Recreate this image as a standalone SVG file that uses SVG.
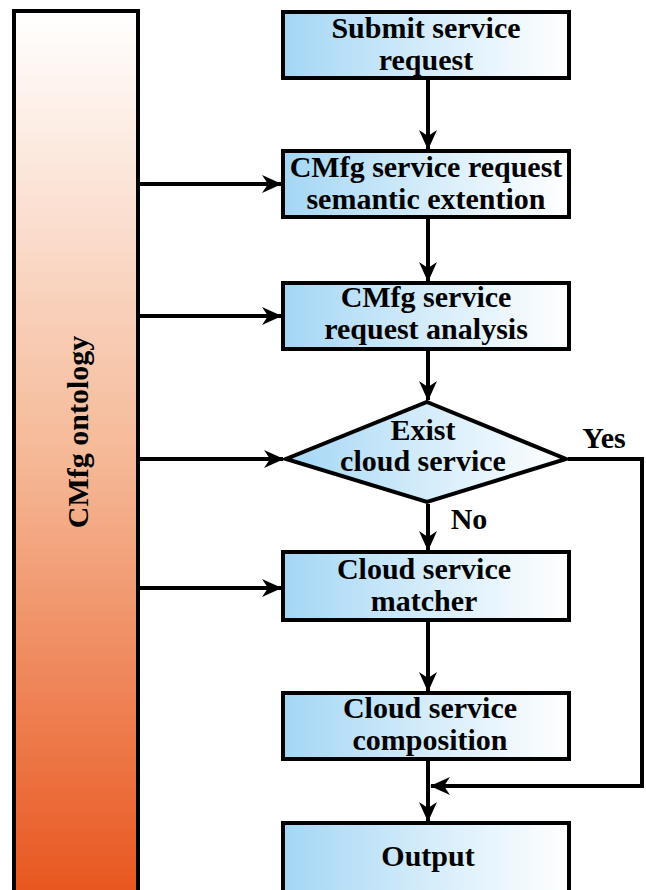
<svg xmlns="http://www.w3.org/2000/svg" width="646" height="890" viewBox="0 0 646 890">
<defs>
<linearGradient id="blue" x1="0" y1="0" x2="1" y2="0">
<stop offset="0" stop-color="#a3d6f5"/>
<stop offset="0.5" stop-color="#d4ecfa"/>
<stop offset="1" stop-color="#ffffff"/>
</linearGradient>
<linearGradient id="orange" x1="0" y1="0" x2="0" y2="1">
<stop offset="0" stop-color="#ffffff"/>
<stop offset="0.5" stop-color="#f5b896"/>
<stop offset="1" stop-color="#e8521a"/>
</linearGradient>
<marker id="arr" markerWidth="20" markerHeight="20" viewBox="0 0 20 20" refX="19" refY="10" orient="auto" markerUnits="userSpaceOnUse">
<path d="M0,1 L20,10 L0,19 L6,10 Z" fill="#000"/>
</marker>
</defs>
<style>
.box{fill:url(#blue);stroke:#000;stroke-width:4}
.t{font-family:"Liberation Serif","Times New Roman",serif;font-weight:bold;font-size:30px;fill:#000;text-anchor:middle}
.c{fill:none;stroke:#000;stroke-width:4}
</style>
<g id="ontology">
<rect x="14" y="11" width="124" height="900" fill="url(#orange)" stroke="#000" stroke-width="4"/>
<text class="t" font-family="Liberation Serif, serif" transform="translate(88,432) rotate(-90)">CMfg ontology</text>
</g>
<g id="submit">
<rect class="box" x="283" y="12" width="286" height="66"/>
<text class="t" font-family="Liberation Serif, serif" x="426" y="38">Submit service</text>
<text class="t" font-family="Liberation Serif, serif" x="426" y="70">request</text>
</g>
<g id="extension">
<rect class="box" x="283" y="151" width="286" height="66"/>
<text class="t" font-family="Liberation Serif, serif" x="426" y="177">CMfg service request</text>
<text class="t" font-family="Liberation Serif, serif" x="426" y="209">semantic extention</text>
</g>
<g id="analysis">
<rect class="box" x="283" y="283" width="286" height="66"/>
<text class="t" font-family="Liberation Serif, serif" x="426" y="307">CMfg service</text>
<text class="t" font-family="Liberation Serif, serif" x="426" y="339">request analysis</text>
</g>
<g id="decision">
<polygon class="box" points="427,402 566,459 427,502 286,459"/>
<text class="t" font-family="Liberation Serif, serif" x="423" y="440">Exist</text>
<text class="t" font-family="Liberation Serif, serif" x="423" y="471">cloud service</text>
</g>
<g id="matcher">
<rect class="box" x="283" y="552" width="286" height="68"/>
<text class="t" font-family="Liberation Serif, serif" x="424" y="579">Cloud service</text>
<text class="t" font-family="Liberation Serif, serif" x="424" y="611">matcher</text>
</g>
<g id="composition">
<rect class="box" x="283" y="693" width="286" height="66"/>
<text class="t" font-family="Liberation Serif, serif" x="430" y="718">Cloud service</text>
<text class="t" font-family="Liberation Serif, serif" x="430" y="750">composition</text>
</g>
<g id="output">
<rect class="box" x="283" y="823" width="286" height="80"/>
<text class="t" font-family="Liberation Serif, serif" x="428" y="866">Output</text>
</g>
<g id="connectors">
<line class="c" x1="428" y1="80" x2="428" y2="149" marker-end="url(#arr)"/>
<line class="c" x1="428" y1="219" x2="428" y2="281" marker-end="url(#arr)"/>
<line class="c" x1="428" y1="351" x2="428" y2="400" marker-end="url(#arr)"/>
<line class="c" x1="428" y1="504" x2="428" y2="550" marker-end="url(#arr)"/>
<line class="c" x1="428" y1="622" x2="428" y2="691" marker-end="url(#arr)"/>
<line class="c" x1="428" y1="761" x2="428" y2="821" marker-end="url(#arr)"/>
<line class="c" x1="140" y1="184" x2="281" y2="184" marker-end="url(#arr)"/>
<line class="c" x1="140" y1="316" x2="281" y2="316" marker-end="url(#arr)"/>
<line class="c" x1="140" y1="459" x2="283" y2="459" marker-end="url(#arr)"/>
<line class="c" x1="140" y1="588" x2="281" y2="588" marker-end="url(#arr)"/>
<polyline class="c" points="568,459 642,459 642,786 431,786" marker-end="url(#arr)"/>
<text class="t" font-family="Liberation Serif, serif" x="604" y="448">Yes</text>
<text class="t" font-family="Liberation Serif, serif" x="469" y="529">No</text>
</g>
</svg>
